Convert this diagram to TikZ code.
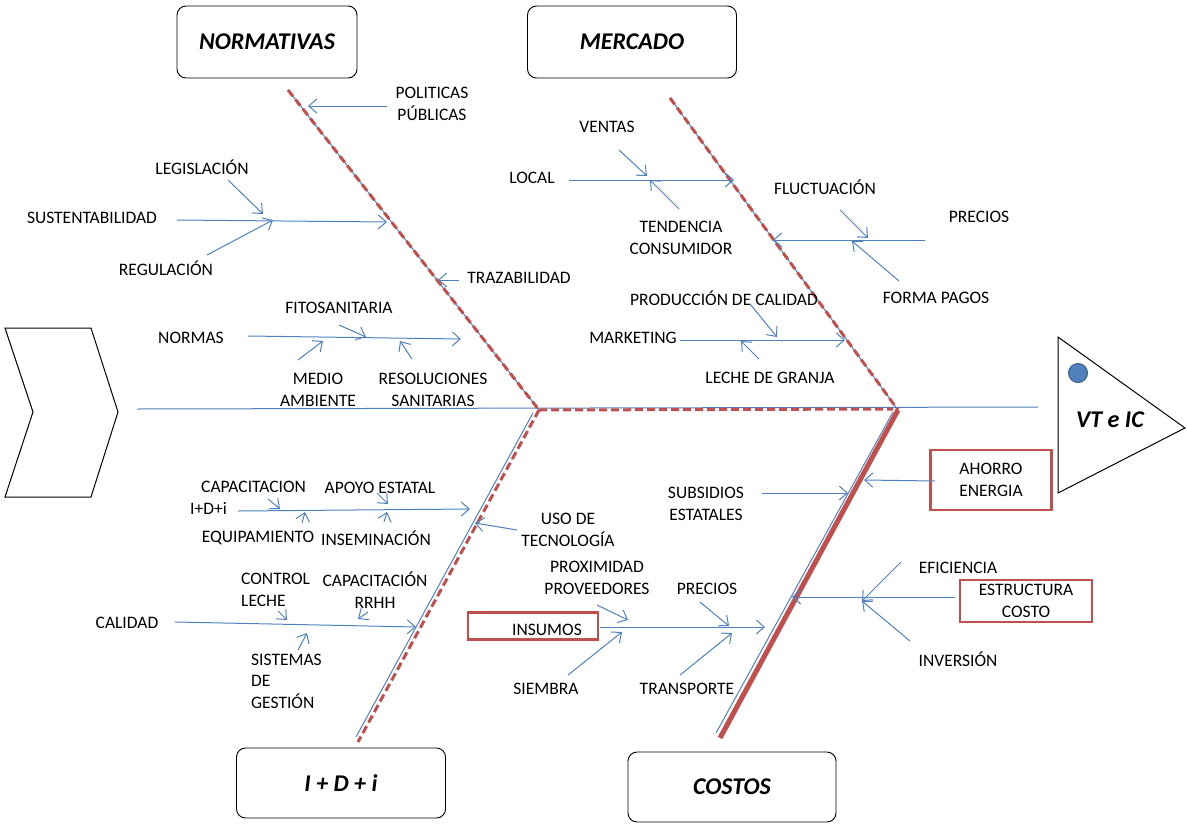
\documentclass[tikz,border=0pt]{standalone}
\usepackage{fontspec}
\setmainfont{Carlito}
\usetikzlibrary{arrows.meta}
\definecolor{bl}{RGB}{79,129,189}
\definecolor{bldark}{RGB}{56,93,138}
\definecolor{rd}{RGB}{192,80,77}
\begin{document}
\begin{tikzpicture}[x=1pt,y=-1pt,
  lbl/.style={font=\fontsize{17.5}{21.5}\selectfont, align=center, inner sep=0pt, text=black},
  catbox/.style={draw=black, line width=0.9pt, rounded corners=9pt, font=\fontsize{24}{28}\selectfont\bfseries\itshape, inner sep=0pt},
  arr/.style={draw=bl, line width=1pt, -{Straight Barb[length=8pt,width=14pt]}},
  bluebone/.style={draw=bl, line width=1pt},
  redbone/.style={draw=rd, line width=3pt, dash pattern=on 8pt off 4pt},
  redbox/.style={draw=rd, line width=2.6pt, inner sep=0pt, lbl},
  shape line/.style={draw=black, line width=1pt, line join=miter}
]
\useasboundingbox (0,0) rectangle (1187,825);

% tail chevron and head triangle
\coordinate (ch1) at (5,328); \coordinate (ch2) at (91,328); \coordinate (ch3) at (118,412);
\coordinate (ch4) at (91,497); \coordinate (ch5) at (5,497); \coordinate (ch6) at (33,412);
\draw[shape line] (ch1) -- (ch2) -- (ch3) -- (ch4) -- (ch5) -- (ch6) -- cycle;
\coordinate (tr1) at (1058,337); \coordinate (tr2) at (1185,428); \coordinate (tr3) at (1058,493);
\draw[shape line] (tr1) -- (tr2) -- (tr3) -- cycle;
\node[circle, fill=bl, draw=bldark, line width=1pt, minimum size=19pt, inner sep=0pt] (dot) at (1078,373) {};
\node[font=\fontsize{24}{28}\selectfont\bfseries\itshape, inner sep=0pt] (vt) at (1110,420) {VT e IC};

% category boxes
\node[catbox, minimum width=180pt, minimum height=72pt] (normativas) at (267,42) {NORMATIVAS};
\node[catbox, minimum width=209pt, minimum height=72pt] (mercado) at (632,42) {MERCADO};
\node[catbox, minimum width=209pt, minimum height=70pt] (idi) at (341,783) {I + D + i};
\node[catbox, minimum width=208pt, minimum height=70pt] (costos) at (732,787) {COSTOS};

% bone coordinates
\coordinate (sp1) at (137,409); \coordinate (sp2) at (1038,407);
\coordinate (nT) at (288,90); \coordinate (j1) at (539,410);
\coordinate (mT) at (670,98); \coordinate (j2) at (898,410);
\coordinate (iB) at (358,742); \coordinate (iBb) at (356,737); \coordinate (j1b) at (533,413);
\coordinate (cB) at (720,738); \coordinate (cBb) at (716,733); \coordinate (j2b) at (893,412);
\coordinate (hr2) at (893,411);

% spine and bones
\draw[bluebone] (sp1) -- (sp2);
\draw[bluebone] (nT) -- (j1);
\draw[bluebone] (mT) -- (j2);
\draw[bluebone] (j1b) -- (iBb);
\draw[bluebone] (j2b) -- (cBb);
\draw[redbone] (nT) -- (j1);
\draw[redbone] (mT) -- (j2);
\draw[redbone] (j1) -- ([yshift=1pt]j1 -| hr2);
\draw[redbone] (j1) -- (iB);
\draw[draw=rd, line width=5pt] (j2) -- (cB);

% labels: NORMATIVAS
\node[lbl] (pol) at (432,104) {POLITICAS\\PÚBLICAS};
\node[lbl] (leg) at (202,167) {LEGISLACIÓN};
\node[lbl] (sus) at (92,218) {SUSTENTABILIDAD};
\node[lbl] (reg) at (166,268) {REGULACIÓN};
\node[lbl] (tra) at (519,278) {TRAZABILIDAD};
\node[lbl] (fit) at (339,308) {FITOSANITARIA};
\node[lbl] (nor) at (191,338) {NORMAS};
\node[lbl] (med) at (318,390) {MEDIO\\AMBIENTE};
\node[lbl] (res) at (433,390) {RESOLUCIONES\\SANITARIAS};

% labels: MERCADO
\node[lbl] (ven) at (607,127) {VENTAS};
\node[lbl] (loc) at (532,178) {LOCAL};
\node[lbl] (ten) at (681,238) {TENDENCIA\\CONSUMIDOR};
\node[lbl] (flu) at (825,187) {FLUCTUACIÓN};
\node[lbl] (mpre) at (979,217) {PRECIOS};
\node[lbl] (fpa) at (936,298) {FORMA PAGOS};
\node[lbl] (pro) at (724,298) {PRODUCCIÓN DE CALIDAD};
\node[lbl] (mar) at (633,338) {MARKETING};
\node[lbl] (lec) at (770,378) {LECHE DE GRANJA};

% labels: I+D+i
\node[lbl, align=left, anchor=west] (cap) at (190,498) {\hspace*{11pt}CAPACITACION\\I+D+i};
\node[lbl] (apo) at (380,488) {APOYO ESTATAL};
\node[lbl] (equ) at (258,538) {EQUIPAMIENTO};
\node[lbl] (ins) at (376,538) {INSEMINACIÓN};
\node[lbl] (uso) at (568,530) {USO DE\\TECNOLOGÍA};
\node[lbl, align=left, anchor=west] (con) at (241,590) {CONTROL\\LECHE};
\node[lbl] (crh) at (375,590) {CAPACITACIÓN\\RRHH};
\node[lbl] (cal) at (127,623) {CALIDAD};
\node[lbl, align=left, anchor=west] (sis) at (251,681) {SISTEMAS\\DE\\GESTIÓN};

% labels: COSTOS
\node[lbl] (sub) at (706,504) {SUBSIDIOS\\ESTATALES};
\node[redbox, minimum width=121pt, minimum height=60pt] (aho) at (991,480) {AHORRO\\ENERGIA};
\node[lbl] (ppr) at (597,578) {PROXIMIDAD\\PROVEEDORES};
\node[redbox, minimum width=130pt, minimum height=27pt] (insbox) at (533,626) {};
\node[lbl] (insu) at (547,630) {INSUMOS};
\node[lbl] (sie) at (546,689) {SIEMBRA};
\node[lbl] (cpre) at (707,589) {PRECIOS};
\node[lbl] (trn) at (687,689) {TRANSPORTE};
\node[lbl] (efi) at (958,568) {EFICIENCIA};
\node[redbox, minimum width=132pt, minimum height=42pt] (est) at (1026,601) {ESTRUCTURA\\COSTO};
\node[lbl] (inv) at (958,659) {INVERSIÓN};

% arrows
\foreach \n/\sx/\sy/\ex/\ey in {
  a1/387/106/308/106, a2/228/180/263/214, a3/177/220/387/222, a4/207/255/273/220,
  a5/459/280/438/280, a6/248/336/461/339, a7/339/325/366/337, a8/298/360/323/341,
  a9/412/359/400/341,
  b1/619/150/647/176, b2/569/180/734/180, b3/679/209/650/180, b4/840/210/868/238,
  b5/925/240/773/240, b6/899/281/852/241, b7/750/304/777/337, b8/680/340/845/340,
  b9/759/359/741/341,
  c1/238/511/470/509, c2/268/499/280/509, c3/377/493/388/504, c4/302/523/305/512,
  c5/384/522/387/512, c6/517/530/475/523, c7/175/622/416/627, c8/278/611/287/620,
  c9/368/612/358/619, c10/298/650/307/633,
  d1/762/493/848/493, d2/935/481/864/480, d3/600/627/765/627, d4/597/605/628/620,
  d5/568/675/622/632, d6/700/602/729/626, d7/680/675/732/633, d8/955/597/792/597,
  d9/901/562/862/601, d10/910/641/862/601}
{
  \coordinate (\n s) at (\sx,\sy);
  \coordinate (\n e) at (\ex,\ey);
  \draw[arr] (\n s) -- (\n e);
}
\end{tikzpicture}
\end{document}
